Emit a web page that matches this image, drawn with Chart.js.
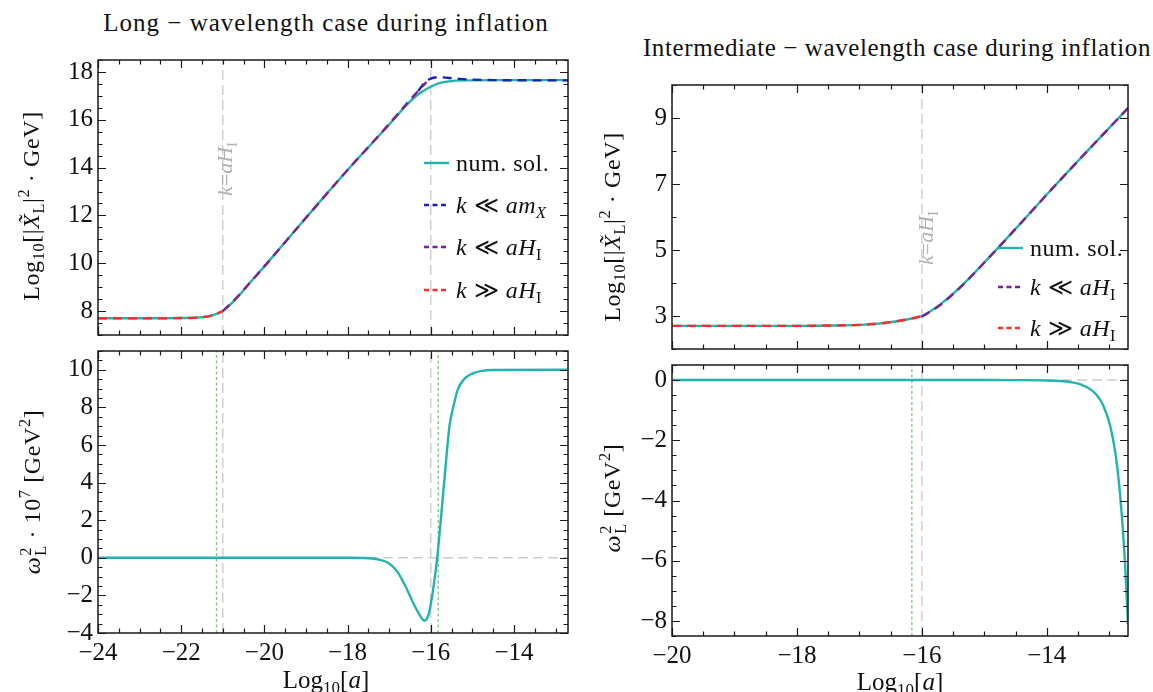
<!DOCTYPE html>
<html lang="en">
<head>
<meta charset="UTF-8">
<title>Long and intermediate wavelength cases during inflation</title>
<script src="https://cdn.jsdelivr.net/npm/chart.js@4.4.1/dist/chart.umd.min.js"></script>
<style>
  body { margin: 0; background: #fff; }
  #page { position: relative; width: 1153px; height: 692px; overflow: hidden;
          font-family: "Liberation Serif", "DejaVu Serif", serif; color: #111; }
  canvas { position: absolute; }
  .txt { position: absolute; white-space: nowrap; transform: translate(-50%, -50%); font-size: 25px; line-height: 1; }
  .title { letter-spacing: 1px; }
  .title2 { letter-spacing: 0.6px; }
  .ax { font-size: 24px; letter-spacing: 0.6px; }
  .rot { transform: translate(-50%, -50%) rotate(-90deg); }
  .lg { position: absolute; white-space: nowrap; transform: translateY(-50%); font-size: 24px; letter-spacing: 0.5px;
        display: flex; align-items: center; line-height: 1; }
  .lg svg { margin-right: 7px; flex: none; }
  sub { font-size: 0.68em; line-height: 0; vertical-align: -0.32em; }
  sup { font-size: 0.68em; line-height: 0; vertical-align: 0.62em; }
  .ss { display: inline-flex; flex-direction: column; font-size: 0.68em; line-height: 0.95; vertical-align: 0.6em; margin-left: 1px; }
  .note { position: absolute; white-space: nowrap; font-size: 22px; color: #b0b0b0; line-height: 1;
          transform: translate(-50%, -50%) rotate(-90deg); }
</style>
</head>
<body>
<div id="page"></div>
<script>
const FONT = '"Liberation Serif", "DejaVu Serif", serif';
const CYAN = '#22b3ad', BLUE = '#1c22b4', PURPLE = '#7b2297', RED = '#ff2a2a';
const GREY = '#cdcdcd', GREEN = '#86c786';

// ---- long-wavelength case (left) ----
const longNumX = [-24, -23, -22, -21.6, -21.3, -21.0, -20.7, -20.4, -20.0, -19.0, -18.0, -17.0, -16.6, -16.4, -16.2, -16.0, -15.8, -15.5, -15.2, -14.5, -13.5, -12.7];
const longNumY = [7.70, 7.70, 7.71, 7.73, 7.80, 8.00, 8.48, 9.08, 9.87, 11.90, 13.90, 15.80, 16.58, 16.92, 17.18, 17.38, 17.53, 17.62, 17.65, 17.66, 17.66, 17.66];
const longMxX = [-16.3, -16.15, -16.0, -15.8, -15.6, -15.3, -15.0, -14.5, -13.5, -12.7];
const longMxY = [17.20, 17.55, 17.72, 17.78, 17.76, 17.71, 17.68, 17.66, 17.65, 17.65];
const longSubX = [-21.0, -20.7, -20.4, -20.0, -19.0, -18.0, -17.0, -16.6, -16.4, -16.2, -16.1];
const longSubY = [8.00, 8.50, 9.08, 9.87, 11.90, 13.90, 15.82, 16.63, 17.02, 17.40, 17.58];
const longSupX = [-24, -23, -22, -21.6, -21.3, -21.0];
const longSupY = [7.70, 7.70, 7.71, 7.73, 7.80, 8.00];
const longOmX = [-24, -20, -18, -17.6, -17.4, -17.2, -17.0, -16.8, -16.6, -16.4, -16.25, -16.15, -16.05, -15.95, -15.85, -15.75, -15.65, -15.55, -15.45, -15.35, -15.2, -15.0, -14.8, -14.5, -12.7];
const longOmY = [0, 0, 0, -0.01, -0.04, -0.12, -0.30, -0.75, -1.55, -2.50, -3.10, -3.35, -3.00, -1.80, -0.10, 2.20, 4.70, 7.00, 8.10, 8.95, 9.50, 9.80, 9.93, 9.99, 10.0];
const longGreyLines = [-21, -16];
const longGreenLines = [-21.15, -15.82];

// ---- intermediate-wavelength case (right) ----
const interNumX = [-20, -18, -17.5, -17.0, -16.7, -16.4, -16.2, -16.0, -15.7, -15.4, -15.0, -14.5, -14.0, -13.5, -13.0, -12.7];
const interNumY = [2.70, 2.70, 2.71, 2.73, 2.77, 2.84, 2.91, 3.00, 3.36, 3.85, 4.62, 5.64, 6.68, 7.70, 8.70, 9.30];
const interSubX = [-16.0, -15.7, -15.4, -15.0, -14.5, -14.0, -13.5, -13.0, -12.7];
const interSubY = [2.98, 3.34, 3.84, 4.62, 5.64, 6.68, 7.70, 8.70, 9.30];
const interSupX = [-20, -18, -17.5, -17.0, -16.7, -16.4, -16.2, -16.0];
const interSupY = [2.70, 2.70, 2.71, 2.73, 2.77, 2.84, 2.91, 3.00];
const interOmX = [-20, -16, -15, -14.5, -14.0, -13.8, -13.6, -13.45, -13.3, -13.2, -13.1, -13.0, -12.95, -12.9, -12.85, -12.8, -12.75, -12.7];
const interOmY = [0, 0, 0, -0.002, -0.013, -0.032, -0.076, -0.15, -0.31, -0.50, -0.83, -1.41, -1.86, -2.45, -3.30, -4.47, -6.00, -8.10];
const interGreyLines = [-16];
const interGreenLines = [-16.16];

// ticks
const longXTicks = [-24, -22, -20, -18, -16, -14];
const longTopYTicks = [8, 10, 12, 14, 16, 18];
const longBotYTicks = [-4, -2, 0, 2, 4, 6, 8, 10];
const interXTicks = [-20, -18, -16, -14];
const interTopYTicks = [3, 5, 7, 9];
const interBotYTicks = [-8, -6, -4, -2, 0];

const pts = (xs, ys) => xs.map((x, i) => ({ x: x, y: ys[i] }));
const fmt = v => (v < 0 ? '\u2212' + Math.abs(v) : String(v));

function curve(xs, ys, color, dashed, order) {
  return { data: pts(xs, ys), borderColor: color, borderWidth: 2.4, borderDash: dashed ? [9, 6] : [],
           showLine: true, pointRadius: 0, cubicInterpolationMode: 'monotone', order: order };
}
function vline(x, range, color, dash) {
  return { data: [{ x: x, y: range[0] }, { x: x, y: range[1] }], borderColor: color, borderWidth: 1.4,
           borderDash: dash, showLine: true, pointRadius: 0, order: 20 };
}
function hline(y, range) {
  return { data: [{ x: range[0], y: y }, { x: range[1], y: y }], borderColor: GREY, borderWidth: 1.4,
           borderDash: [10, 5], showLine: true, pointRadius: 0, order: 20 };
}

// inward ticks on all four sides plus the frame
const frame = {
  id: 'frame',
  afterDatasetsDraw(chart, args, o) {
    const { ctx, chartArea: a } = chart;
    const xs = chart.scales.x, ys = chart.scales.y;
    ctx.save();
    ctx.strokeStyle = '#1a1a1a';
    ctx.lineWidth = 1.2;
    const steps = (min, max, st) => {
      const out = [];
      for (let v = Math.ceil(min / st - 1e-9) * st; v <= max + 1e-9; v += st) out.push(+v.toFixed(4));
      return out;
    };
    const mark = (vals, len, horiz) => {
      vals.forEach(v => {
        ctx.beginPath();
        if (horiz) {
          const p = Math.round(xs.getPixelForValue(v)) + 0.5;
          ctx.moveTo(p, a.bottom); ctx.lineTo(p, a.bottom - len);
          ctx.moveTo(p, a.top); ctx.lineTo(p, a.top + len);
        } else {
          const p = Math.round(ys.getPixelForValue(v)) + 0.5;
          ctx.moveTo(a.left, p); ctx.lineTo(a.left + len, p);
          ctx.moveTo(a.right, p); ctx.lineTo(a.right - len, p);
        }
        ctx.stroke();
      });
    };
    mark(steps(xs.min, xs.max, o.xMinor).filter(v => !o.xTicks.includes(v)), 4.5, true);
    mark(o.xTicks, 8, true);
    mark(steps(ys.min, ys.max, o.yMinor).filter(v => !o.yTicks.includes(v)), 4.5, false);
    mark(o.yTicks, 8, false);
    ctx.lineWidth = 1.5;
    ctx.strokeRect(a.left, a.top, a.width, a.height);
    ctx.restore();
  }
};

const page = document.getElementById('page');

function panel(rect, xRange, yRange, xTicks, yTicks, xMinor, yMinor, showX, datasets) {
  const padL = 66, padT = 12, padR = 14, padB = showX ? 42 : 12;
  const cv = document.createElement('canvas');
  cv.width = rect.w + padL + padR;
  cv.height = rect.h + padT + padB;
  cv.style.left = (rect.x - padL) + 'px';
  cv.style.top = (rect.y - padT) + 'px';
  page.appendChild(cv);
  const chart = new Chart(cv, {
    type: 'scatter',
    data: { datasets: datasets },
    options: {
      responsive: false, animation: false, devicePixelRatio: 1,
      layout: { padding: { left: 0, top: padT, right: padR, bottom: 0 } },
      plugins: { legend: { display: false }, tooltip: { enabled: false },
                 frame: { xTicks: xTicks, yTicks: yTicks, xMinor: xMinor, yMinor: yMinor } },
      scales: {
        x: { type: 'linear', min: xRange[0], max: xRange[1],
             grid: { display: false, drawTicks: false }, border: { display: false },
             afterBuildTicks: s => { s.ticks = xTicks.map(v => ({ value: v })); },
             afterFit: s => { s.height = padB; },
             ticks: { display: showX, padding: 5, color: '#111', font: { family: FONT, size: 25 }, callback: fmt } },
        y: { type: 'linear', min: yRange[0], max: yRange[1],
             grid: { display: false, drawTicks: false }, border: { display: false },
             afterBuildTicks: s => { s.ticks = yTicks.map(v => ({ value: v })); },
             afterFit: s => { s.width = padL; },
             ticks: { padding: 5, color: '#111', font: { family: FONT, size: 25 }, callback: fmt } }
      }
    },
    plugins: [frame]
  });
  chart.offX = rect.x - padL;
  chart.offY = rect.y - padT;
  return chart;
}

const longXR = [-24, -12.7], interXR = [-20, -12.7];
const ltYR = [7, 18.5], lbYR = [-4, 11], rtYR = [2, 10], rbYR = [-8.5, 0.5];

const lt = panel({ x: 98, y: 52, w: 470, h: 291 }, longXR, ltYR, longXTicks, longTopYTicks, 0.5, 0.5, false, [
  curve(longSupX, longSupY, RED, true, 1),
  curve(longSubX, longSubY, PURPLE, true, 1),
  curve(longMxX, longMxY, BLUE, true, 2),
  curve(longNumX, longNumY, CYAN, false, 5),
  ...longGreyLines.map(v => vline(v, ltYR, GREY, [10, 5]))
]);
const lb = panel({ x: 98, y: 343, w: 470, h: 290 }, longXR, lbYR, longXTicks, longBotYTicks, 0.5, 0.5, true, [
  curve(longOmX, longOmY, CYAN, false, 5),
  hline(0, longXR),
  ...longGreyLines.map(v => vline(v, lbYR, GREY, [10, 5])),
  ...longGreenLines.map(v => vline(v, lbYR, GREEN, [3, 2.5]))
]);
const rt = panel({ x: 672, y: 77, w: 456, h: 280 }, interXR, rtYR, interXTicks, interTopYTicks, 0.5, 1, false, [
  curve(interSupX, interSupY, RED, true, 1),
  curve(interSubX, interSubY, PURPLE, true, 1),
  curve(interNumX, interNumY, CYAN, false, 5),
  ...interGreyLines.map(v => vline(v, rtYR, GREY, [10, 5]))
]);
const rb = panel({ x: 672, y: 357, w: 456, h: 279 }, interXR, rbYR, interXTicks, interBotYTicks, 0.5, 0.5, true, [
  curve(interOmX, interOmY, CYAN, false, 5),
  hline(0, interXR),
  ...interGreyLines.map(v => vline(v, rbYR, GREY, [10, 5])),
  ...interGreenLines.map(v => vline(v, rbYR, GREEN, [3, 2.5]))
]);

// ---- text ----
function addText(html, x, y, cls) {
  const d = document.createElement('div');
  d.className = cls;
  d.innerHTML = html;
  d.style.left = x + 'px';
  d.style.top = y + 'px';
  page.appendChild(d);
  return d;
}
const chiLabel = 'Log<sub>10</sub>[|<i>X\u0303</i><sub>L</sub>|<sup>2</sup> \u00b7 GeV]';
const omLabel = '<i>\u03c9</i><span class="ss"><span>2</span><span>L</span></span>';
addText('Long \u2212 wavelength case during inflation', 326, 22, 'txt title');
addText('Intermediate \u2212 wavelength case during inflation', 897, 47, 'txt title2');
addText(chiLabel, 31, 206, 'txt ax rot');
addText(omLabel + ' \u00b7 10<sup>7</sup> [GeV<sup>2</sup>]', 33, 492, 'txt ax rot');
addText(chiLabel, 612, 227, 'txt ax rot');
addText(omLabel + ' [GeV<sup>2</sup>]', 613, 498, 'txt ax rot');
addText('Log<sub>10</sub>[<i>a</i>]', 326, 679, 'txt');
addText('Log<sub>10</sub>[<i>a</i>]', 900, 681, 'txt');

const kaH = '<i>k</i>=<i>aH</i><sub>I</sub>';
addText(kaH, lt.offX + lt.scales.x.getPixelForValue(-21) + 2, 169, 'note');
addText(kaH, rt.offX + rt.scales.x.getPixelForValue(-16) + 4, 238, 'note');

function swatch(color, dashed) {
  return '<svg width="25" height="10"><line x1="0" y1="5" x2="25" y2="5" stroke="' + color +
    '" stroke-width="2.4"' + (dashed ? ' stroke-dasharray="5,3.5"' : '') + '/></svg>';
}
const legLong = [
  [swatch(CYAN, false), 'num. sol.', 163],
  [swatch(BLUE, true), '<i>k</i> \u226a <i>am</i><sub><i>X</i></sub>', 205],
  [swatch(PURPLE, true), '<i>k</i> \u226a <i>aH</i><sub>I</sub>', 247],
  [swatch(RED, true), '<i>k</i> \u226b <i>aH</i><sub>I</sub>', 290]
];
legLong.forEach(r => addText(r[0] + '<span>' + r[1] + '</span>', 424, r[2], 'lg'));
const legInter = [
  [swatch(CYAN, false), 'num. sol.', 248],
  [swatch(PURPLE, true), '<i>k</i> \u226a <i>aH</i><sub>I</sub>', 287],
  [swatch(RED, true), '<i>k</i> \u226b <i>aH</i><sub>I</sub>', 328]
];
legInter.forEach(r => addText(r[0] + '<span>' + r[1] + '</span>', 998, r[2], 'lg'));
</script>
</body>
</html>
